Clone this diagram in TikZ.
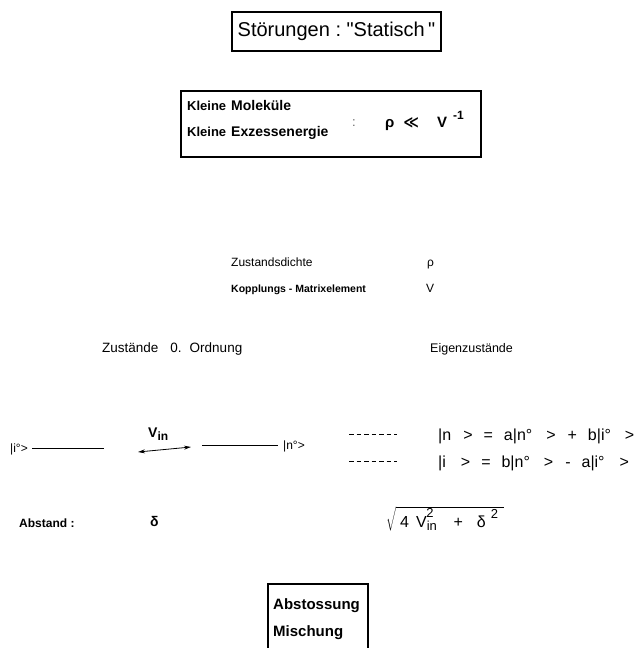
\documentclass[tikz,border=0pt]{standalone}
\usepackage{fontspec}
\setmainfont{Liberation Sans}[Ligatures=TeXOff]
\newfontfamily\symfont{DejaVu Sans}
\usetikzlibrary{arrows.meta}
\newcommand\fsz[1]{\fontsize{#1}{#1}\selectfont}
\newcommand\gap[1]{\hspace{#1pt}}
\tikzset{
  boxed/.style={draw, line width=1.1pt, inner sep=0pt},
  txt/.style={anchor=base west, inner sep=0pt},
  lvl/.style={line width=0.9pt},
  dlvl/.style={line width=0.9pt, dash pattern=on 4.5pt off 3pt},
}
\begin{document}
\begin{tikzpicture}[x=1pt,y=-1pt]
\useasboundingbox (0,0) rectangle (642,648);
% title
\node[boxed, minimum width=209pt, minimum height=39pt, font=\fsz{20}] (title) at (336.5,31.5) {Störungen :\ "Statisch\,"};
% conditions box
\node[boxed, minimum width=300pt, minimum height=66pt] (cond) at (331,124) {};
\node[txt, font=\fsz{13}\bfseries] (k1) at (187,110) {Kleine};
\node[txt, font=\fsz{14}\bfseries] (m1) at (231,110) {Moleküle};
\node[txt, font=\fsz{13}\bfseries] (k2) at (187,136) {Kleine};
\node[txt, font=\fsz{14}\bfseries] (e2) at (231,136) {Exzessenergie};
\node[txt, font=\fsz{13}, text=black!60] (colon) at (352,126) {:};
\node[txt, font=\fsz{15}\bfseries] (rel) at (385,127) {ρ\gap{9}{\symfont ≪}\gap{18}V\gap{6}\raisebox{8pt}{\fsz{12}-1}};
% definitions
\node[txt, font=\fsz{12}] (zd) at (231,266) {Zustandsdichte};
\node[txt, font=\fsz{12}] (rho) at (427,266) {ρ};
\node[txt, font=\fsz{10.5}\bfseries] (km) at (231,292) {Kopplungs\ -\ Matrixelement};
\node[txt, font=\fsz{12}] (v) at (426,292) {V};
% headings
\node[txt, font=\fsz{13.5}] (zo) at (102,352) {Zustände\gap{12}0.\gap{8}Ordnung};
\node[txt, font=\fsz{12.5}] (ez) at (430,352) {Eigenzustände};
% zero-order levels
\node[txt, font=\fsz{12}] (ki) at (10,452) {|i°>};
\coordinate (iL) at (32,448);
\coordinate (iR) at (104,448);
\draw[lvl] (iL) -- (iR);
\coordinate (aL) at (138,452);
\coordinate (aR) at (191,447);
\draw[line width=0.8pt, {Stealth[length=7pt,width=4pt]}-{Stealth[length=7pt,width=4pt]}] (aL) -- (aR);
\node[txt, font=\fsz{14}\bfseries] (vin) at (148,437) {V\raisebox{-3pt}{\fsz{12}in}};
\coordinate (nL) at (202,445);
\coordinate (nR) at (278,445);
\draw[lvl] (nL) -- (nR);
\node[txt, font=\fsz{12}] (kn) at (283,449) {|n°>};
% eigenstates
\coordinate (d1L) at (349,434);
\coordinate (d1R) at (397,434);
\draw[dlvl] (d1L) -- (d1R);
\coordinate (d2L) at (349,461);
\coordinate (d2R) at (397,461);
\draw[dlvl] (d2L) -- (d2R);
\node[txt, font=\fsz{16}] (e1) at (438,440) {|n\gap{12}>\gap{11}=\gap{11}a|n°\gap{14}>\gap{12}+\gap{11}b|i°\gap{14}>};
\node[txt, font=\fsz{16}] (e2k) at (438,467) {|i\gap{15}>\gap{11}=\gap{11}b|n°\gap{14}>\gap{12}-\gap{11}a|i°\gap{15}>};
% distance
\node[txt, font=\fsz{12}\bfseries] (ab) at (19,527) {Abstand :};
\node[txt, font=\fsz{14}\bfseries] (delta) at (150,526) {δ};
\node[txt, font=\fsz{16}] (sq) at (386,527) {$\sqrt{\mbox{\gap{4}4\gap{7}V$_{\mbox{\fsz{13}in}}$\hspace{-11pt}\raisebox{10pt}{\fsz{13}2}\gap{20}+\gap{14}δ\gap{5}\raisebox{9pt}{\fsz{13}2}\gap{6}}}$};
% result box
\coordinate (rBL) at (268,650);
\coordinate (rTL) at (268,584);
\coordinate (rTR) at (368,584);
\coordinate (rBR) at (368,650);
\draw[line width=1.1pt] (rBL) -- (rTL) -- (rTR) -- (rBR);
\node[txt, font=\fsz{15}\bfseries] (abst) at (273,609) {Abstossung};
\node[txt, font=\fsz{15}\bfseries] (mi) at (273,636) {Mischung};
\end{tikzpicture}
\end{document}
